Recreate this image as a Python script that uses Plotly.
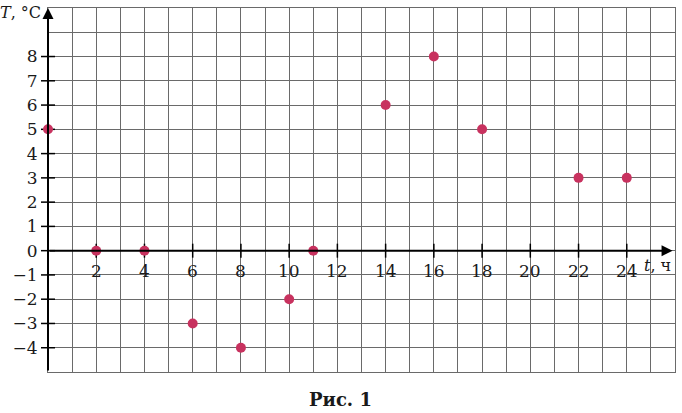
import plotly.graph_objects as go

# Data
hours = [0, 2, 4, 6, 8, 10, 11, 14, 16, 18, 22, 24]
temps = [5, 0, 0, -3, -4, -2, 0, 6, 8, 5, 3, 3]

x_tick_vals = [2, 4, 6, 8, 10, 12, 14, 16, 18, 20, 22, 24]
x_tick_text = [str(v) for v in x_tick_vals]
y_tick_vals = [8, 7, 6, 5, 4, 3, 2, 1, 0, -1, -2, -3, -4]
y_tick_text = [str(v).replace("-", "\u2212") for v in y_tick_vals]

x_range = [0, 26]
y_range = [-5, 10]

FONT = "DejaVu Serif"
GRID = "#6a6a6a"
MARK = "#c8325f"
TXT = "#1a1a1a"

fig = go.Figure()

# tick marks crossing the axes
fig.add_trace(go.Scatter(
    x=x_tick_vals, y=[0] * len(x_tick_vals), mode="markers",
    marker=dict(symbol="line-ns", size=10, line=dict(color="black", width=1.5)),
    hoverinfo="skip", showlegend=False, cliponaxis=False))
fig.add_trace(go.Scatter(
    x=[0] * len(y_tick_vals), y=y_tick_vals, mode="markers",
    marker=dict(symbol="line-ew", size=10, line=dict(color="black", width=1.5)),
    hoverinfo="skip", showlegend=False, cliponaxis=False))

# axes with arrows
fig.add_annotation(x=x_range[1] - 0.1, y=0, ax=x_range[0], ay=0,
                   xref="x", yref="y", axref="x", ayref="y",
                   showarrow=True, arrowhead=2, arrowsize=1.1, arrowwidth=2,
                   arrowcolor="black", text="")
fig.add_annotation(x=0, y=y_range[1], ax=0, ay=y_range[0],
                   xref="x", yref="y", axref="x", ayref="y",
                   showarrow=True, arrowhead=2, arrowsize=1.1, arrowwidth=2,
                   arrowcolor="black", text="")

# data points
fig.add_trace(go.Scatter(
    x=hours, y=temps, mode="markers",
    marker=dict(color=MARK, size=10),
    showlegend=False, cliponaxis=False))

# x tick labels below the x axis
for v, t in zip(x_tick_vals, x_tick_text):
    fig.add_annotation(x=v, y=0, xref="x", yref="y", yanchor="top", yshift=-8,
                       text=t, showarrow=False,
                       font=dict(family=FONT, size=17, color=TXT))

# axis titles
fig.add_annotation(x=24.65, y=0, xref="x", yref="y", xanchor="left", yanchor="top",
                   yshift=-3, text="<i>t</i>, ч", showarrow=False,
                   font=dict(family=FONT, size=16, color=TXT))
fig.add_annotation(x=0, y=y_range[1], xref="x", yref="y", xanchor="right", yanchor="middle",
                   xshift=-5, yshift=-4, text="<i>T</i>, °C", showarrow=False,
                   font=dict(family=FONT, size=16, color=TXT))

# caption
fig.add_annotation(x=0.466, y=0, xref="paper", yref="paper", yanchor="top",
                   yshift=-15, text="<b>Рис. 1</b>", showarrow=False,
                   font=dict(family=FONT, size=18, color=TXT))

fig.update_xaxes(range=x_range, dtick=1, tick0=0, showgrid=True, gridcolor=GRID,
                 gridwidth=1, showticklabels=False, zeroline=False, automargin=False,
                 showline=True, mirror=True, linecolor=GRID, linewidth=1, ticks="")
fig.update_yaxes(range=y_range, tickmode="array", tickvals=y_tick_vals, ticktext=y_tick_text,
                 showgrid=True, gridcolor=GRID, gridwidth=1, zeroline=False, automargin=False,
                 showline=True, mirror=True, linecolor=GRID, linewidth=1, ticks="",
                 tickfont=dict(family=FONT, size=17, color=TXT), ticklabelstandoff=6,
                 minor=dict(tickvals=[9], showgrid=True, gridcolor=GRID, gridwidth=1))

fig.update_layout(
    width=682, height=413,
    margin=dict(l=48, r=7, t=8, b=41, autoexpand=False),
    paper_bgcolor="white", plot_bgcolor="white",
    showlegend=False,
)

fig.write_html("out.html", config={"displayModeBar": False},
               post_script="document.body.style.margin='0px';document.body.style.padding='0px';")
